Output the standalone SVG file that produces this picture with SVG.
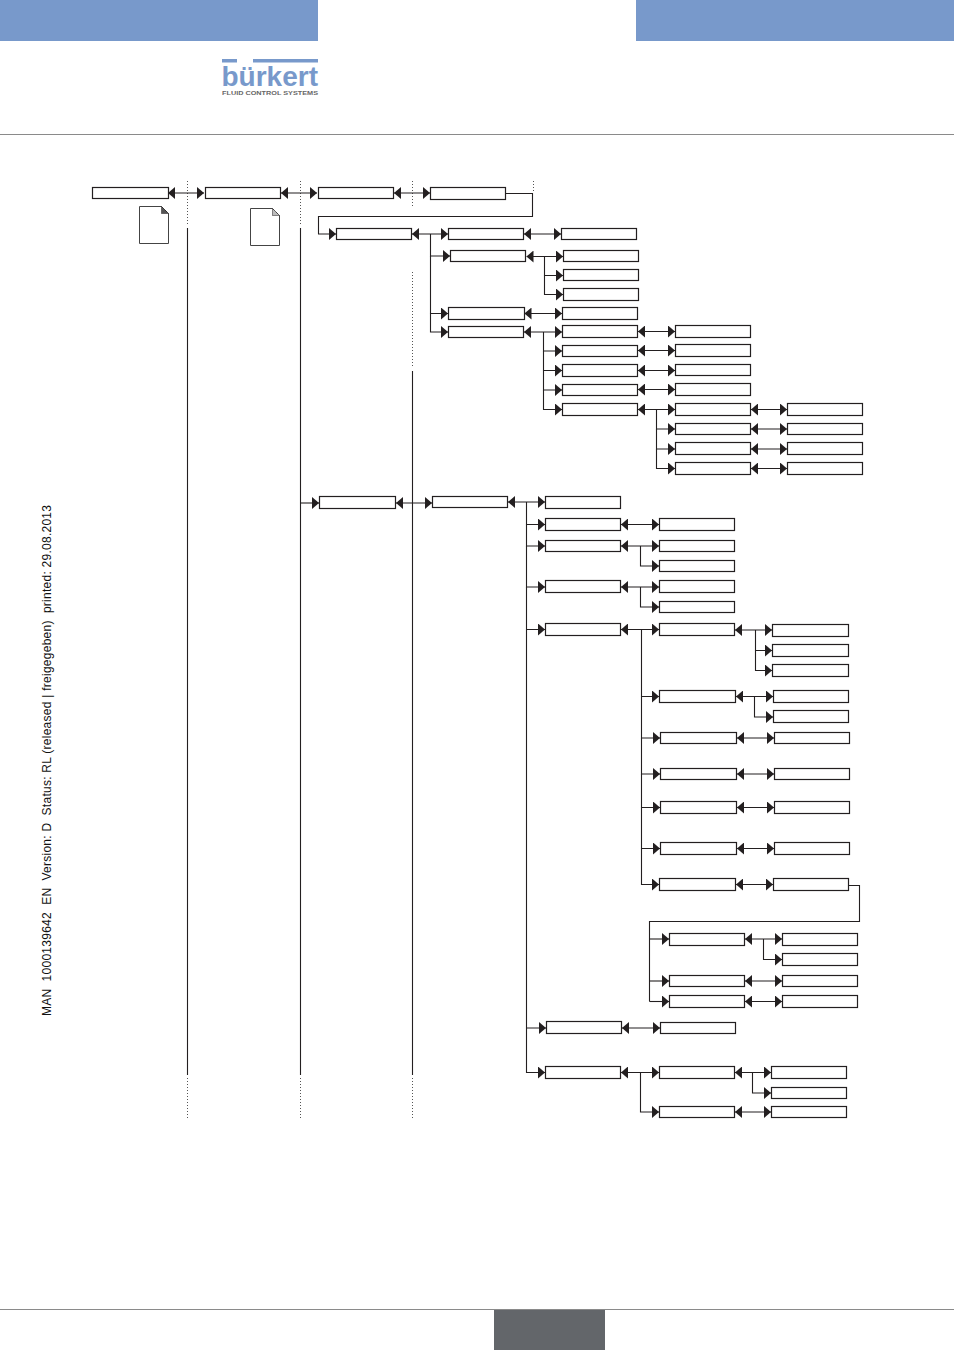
<svg xmlns="http://www.w3.org/2000/svg" width="954" height="1350" viewBox="0 0 954 1350">
<style>
.b{fill:#fff;stroke:#231f20;stroke-width:1.200}
.c{fill:none;stroke:#231f20;stroke-width:1.100}
.a{marker-start:url(#h);marker-end:url(#h)}
.e{marker-end:url(#h)}
.d{fill:none;stroke:#555;stroke-width:1;stroke-dasharray:1 2}
.doc{fill:#fff;stroke:#444;stroke-width:1}
</style>
<defs>
<marker id="h" markerUnits="userSpaceOnUse" viewBox="0 0 7 12" refX="7" refY="6" markerWidth="7" markerHeight="12" orient="auto-start-reverse"><path d="M0 0L7 6L0 12Z" fill="#231f20"/></marker>
</defs>
<g id="header">
<rect x="0" y="0" width="318" height="41" fill="#7899cb"/>
<rect x="636" y="0" width="318" height="41" fill="#7899cb"/>
<path d="M0 134.500H954M0 1309.500H954" stroke="#8a8a8a" fill="none"/>
<rect x="494" y="1310" width="111" height="40" fill="#63666a"/>
</g>
<g id="logo">
<path d="M222 59h15v3.500h-15zM253 59h65v3.500h-65z" fill="#7899cb"/>
<text x="221.500" y="85.500" font-family="Liberation Sans, Arial, sans-serif" font-weight="700" font-size="28" fill="#7899cb" textLength="96.500" lengthAdjust="spacingAndGlyphs">bürkert</text>
<text x="222" y="94.500" font-family="Liberation Sans, Arial, sans-serif" font-weight="700" font-size="5.500" fill="#666" textLength="96" lengthAdjust="spacingAndGlyphs">FLUID CONTROL SYSTEMS</text>
</g>
<text id="side" transform="translate(51,1016) rotate(-90)" font-family="Liberation Sans, Arial, sans-serif" font-size="12" fill="#111" xml:space="preserve" textLength="511">MAN  1000139642  EN  Version: D  Status: RL (released | freigegeben)  printed: 29.08.2013</text>
<g id="doc1"><path class="doc" d="M139.500 206.500H161.500L168.500 213.500V243.500H139.500Z"/><path d="M161.500 206.500V213.500H168.500Z" fill="#555" stroke="#231f20" stroke-dasharray="1 1"/></g>
<g id="doc2"><path class="doc" d="M250.500 208.500H272.500L279.500 215.500V245.500H250.500Z"/><path d="M272.500 208.500V215.500H279.500Z" fill="#bbb" stroke="#231f20" stroke-dasharray="1 1"/></g>
<g id="guides">
<path class="d" d="M187.500 181V225M187.500 1078V1119M300.500 181V225M300.500 1078V1119M412.500 181V208M412.500 272V366M412.500 1078V1119M533.500 181V191"/>
</g>
<g id="connectors">
<path class="c" d="M187.500 228V1075M300.500 228V1075M412.500 371V1075"/>
<path class="c a" d="M168 193H204"/>
<path class="c a" d="M281 193H317"/>
<path class="c a" d="M394 193H430"/>
<path class="c e" d="M506 193.500H532.500V216.500H318.500V234H336"/>
<path class="c a" d="M412 234H448"/>
<path class="c e" d="M430.500 234V256H450"/>
<path class="c e" d="M430.500 256V313.500H448"/>
<path class="c e" d="M430.500 313.500V332H448"/>
<path class="c a" d="M524 234H561"/>
<path class="c a" d="M526.500 256.500H563"/>
<path class="c e" d="M544.500 256.500V275.500H563"/>
<path class="c e" d="M544.500 275.500V294.500H563"/>
<path class="c a" d="M524.500 313.500H562"/>
<path class="c a" d="M524 332H562"/>
<path class="c e" d="M543.500 332V351H562"/>
<path class="c e" d="M543.500 351V370.500H562"/>
<path class="c e" d="M543.500 370.500V390H562"/>
<path class="c e" d="M543.500 390V409.500H562"/>
<path class="c a" d="M638 331.500H675"/>
<path class="c a" d="M638 350.500H675"/>
<path class="c a" d="M638 370.500H675"/>
<path class="c a" d="M638 389.500H675"/>
<path class="c a" d="M638 409.500H675"/>
<path class="c e" d="M656.500 409.500V429H675"/>
<path class="c e" d="M656.500 429V449H675"/>
<path class="c e" d="M656.500 449V468.500H675"/>
<path class="c a" d="M751 409.500H787"/>
<path class="c a" d="M751 429H787"/>
<path class="c a" d="M751 449H787"/>
<path class="c a" d="M751 468.500H787"/>
<path class="c e" d="M300.500 503H319"/>
<path class="c a" d="M396 503H432"/>
<path class="c a" d="M508 502H545"/>
<path class="c e" d="M526.500 502V524.500H545"/>
<path class="c e" d="M526.500 524.500V546H545"/>
<path class="c e" d="M526.500 546V587H545"/>
<path class="c e" d="M526.500 587V629.500H545"/>
<path class="c e" d="M526.500 629.500V1028H546"/>
<path class="c e" d="M526.500 1028V1072.500H545"/>
<path class="c a" d="M621 524.500H659"/>
<path class="c a" d="M621 546H659"/>
<path class="c e" d="M640.500 546V566H659"/>
<path class="c a" d="M621 587H659"/>
<path class="c e" d="M640.500 587V607H659"/>
<path class="c a" d="M621 629.500H659"/>
<path class="c e" d="M641.500 629.500V696.500H659"/>
<path class="c e" d="M641.500 696.500V738H660"/>
<path class="c e" d="M641.500 738V774H660"/>
<path class="c e" d="M641.500 774V807.500H660"/>
<path class="c e" d="M641.500 807.500V848.500H660"/>
<path class="c e" d="M641.500 848.500V884.500H659"/>
<path class="c a" d="M735 630H772"/>
<path class="c e" d="M755.500 630V650.500H772"/>
<path class="c e" d="M755.500 650.500V670.500H772"/>
<path class="c a" d="M736 696.500H773"/>
<path class="c e" d="M754.500 696.500V717H773"/>
<path class="c a" d="M737 738H774"/>
<path class="c a" d="M737 774H774"/>
<path class="c a" d="M737 807.500H774"/>
<path class="c a" d="M737 848.500H774"/>
<path class="c a" d="M736 884.500H773"/>
<path class="c" d="M849 885.500H859.500V921.500H649.500V1001.500"/>
<path class="c e" d="M649.500 939H669"/>
<path class="c e" d="M649.500 981H669"/>
<path class="c e" d="M649.500 1001.500H669"/>
<path class="c a" d="M745 939H782"/>
<path class="c e" d="M763.500 939V959.500H782"/>
<path class="c a" d="M745 981H782"/>
<path class="c a" d="M745 1001.500H782"/>
<path class="c a" d="M622 1028H660"/>
<path class="c a" d="M621 1072.500H659"/>
<path class="c e" d="M640.500 1072.500V1112H659"/>
<path class="c a" d="M735 1072.500H771"/>
<path class="c e" d="M752.500 1072.500V1093H771"/>
<path class="c a" d="M735 1112H771"/>
</g>
<g id="n1"><rect class="b" x="92.500" y="187.500" width="76" height="11"/></g>
<g id="n2"><rect class="b" x="205.500" y="187.500" width="75" height="11"/></g>
<g id="n3"><rect class="b" x="318.500" y="187.500" width="75" height="11"/></g>
<g id="n4"><rect class="b" x="430.500" y="187.500" width="75" height="12"/></g>
<g id="n5"><rect class="b" x="336.500" y="228.500" width="75" height="11"/></g>
<g id="n6"><rect class="b" x="448.500" y="228.500" width="75" height="11"/></g>
<g id="n7"><rect class="b" x="561.500" y="228.500" width="75" height="11"/></g>
<g id="n8"><rect class="b" x="450.500" y="250.500" width="75" height="11"/></g>
<g id="n9"><rect class="b" x="563.500" y="250.500" width="75" height="11"/></g>
<g id="n10"><rect class="b" x="563.500" y="269.500" width="75" height="11"/></g>
<g id="n11"><rect class="b" x="563.500" y="288.500" width="75" height="12"/></g>
<g id="n12"><rect class="b" x="448.500" y="307.500" width="76" height="12"/></g>
<g id="n13"><rect class="b" x="562.500" y="307.500" width="75" height="12"/></g>
<g id="n14"><rect class="b" x="448.500" y="326.500" width="75" height="11"/></g>
<g id="n15"><rect class="b" x="562.500" y="325.500" width="75" height="12"/></g>
<g id="n16"><rect class="b" x="675.500" y="325.500" width="75" height="12"/></g>
<g id="n17"><rect class="b" x="562.500" y="345.500" width="75" height="11"/></g>
<g id="n18"><rect class="b" x="675.500" y="344.500" width="75" height="12"/></g>
<g id="n19"><rect class="b" x="562.500" y="364.500" width="75" height="12"/></g>
<g id="n20"><rect class="b" x="675.500" y="364.500" width="75" height="11"/></g>
<g id="n21"><rect class="b" x="562.500" y="384.500" width="75" height="11"/></g>
<g id="n22"><rect class="b" x="675.500" y="383.500" width="75" height="12"/></g>
<g id="n23"><rect class="b" x="562.500" y="403.500" width="75" height="12"/></g>
<g id="n24"><rect class="b" x="675.500" y="403.500" width="75" height="12"/></g>
<g id="n25"><rect class="b" x="787.500" y="403.500" width="75" height="12"/></g>
<g id="n26"><rect class="b" x="675.500" y="423.500" width="75" height="11"/></g>
<g id="n27"><rect class="b" x="787.500" y="423.500" width="75" height="11"/></g>
<g id="n28"><rect class="b" x="675.500" y="442.500" width="75" height="12"/></g>
<g id="n29"><rect class="b" x="787.500" y="442.500" width="75" height="12"/></g>
<g id="n30"><rect class="b" x="675.500" y="462.500" width="75" height="12"/></g>
<g id="n31"><rect class="b" x="787.500" y="462.500" width="75" height="12"/></g>
<g id="n32"><rect class="b" x="319.500" y="496.500" width="76" height="12"/></g>
<g id="n33"><rect class="b" x="432.500" y="496.500" width="75" height="11"/></g>
<g id="n34"><rect class="b" x="545.500" y="496.500" width="75" height="12"/></g>
<g id="n35"><rect class="b" x="545.500" y="518.500" width="75" height="12"/></g>
<g id="n36"><rect class="b" x="659.500" y="518.500" width="75" height="12"/></g>
<g id="n37"><rect class="b" x="545.500" y="540.500" width="75" height="11"/></g>
<g id="n38"><rect class="b" x="659.500" y="540.500" width="75" height="11"/></g>
<g id="n39"><rect class="b" x="659.500" y="560.500" width="75" height="11"/></g>
<g id="n40"><rect class="b" x="545.500" y="580.500" width="75" height="12"/></g>
<g id="n41"><rect class="b" x="659.500" y="580.500" width="75" height="12"/></g>
<g id="n42"><rect class="b" x="659.500" y="601.500" width="75" height="11"/></g>
<g id="n43"><rect class="b" x="545.500" y="623.500" width="75" height="12"/></g>
<g id="n44"><rect class="b" x="659.500" y="623.500" width="75" height="12"/></g>
<g id="n45"><rect class="b" x="772.500" y="624.500" width="76" height="12"/></g>
<g id="n46"><rect class="b" x="772.500" y="644.500" width="76" height="12"/></g>
<g id="n47"><rect class="b" x="772.500" y="664.500" width="76" height="12"/></g>
<g id="n48"><rect class="b" x="659.500" y="690.500" width="76" height="12"/></g>
<g id="n49"><rect class="b" x="773.500" y="690.500" width="75" height="12"/></g>
<g id="n50"><rect class="b" x="773.500" y="710.500" width="75" height="12"/></g>
<g id="n51"><rect class="b" x="660.500" y="732.500" width="76" height="11"/></g>
<g id="n52"><rect class="b" x="774.500" y="732.500" width="75" height="11"/></g>
<g id="n53"><rect class="b" x="660.500" y="768.500" width="76" height="11"/></g>
<g id="n54"><rect class="b" x="774.500" y="768.500" width="75" height="11"/></g>
<g id="n55"><rect class="b" x="660.500" y="801.500" width="76" height="12"/></g>
<g id="n56"><rect class="b" x="774.500" y="801.500" width="75" height="12"/></g>
<g id="n57"><rect class="b" x="660.500" y="842.500" width="76" height="12"/></g>
<g id="n58"><rect class="b" x="774.500" y="842.500" width="75" height="12"/></g>
<g id="n59"><rect class="b" x="659.500" y="878.500" width="76" height="12"/></g>
<g id="n60"><rect class="b" x="773.500" y="878.500" width="75" height="12"/></g>
<g id="n61"><rect class="b" x="669.500" y="933.500" width="75" height="12"/></g>
<g id="n62"><rect class="b" x="782.500" y="933.500" width="75" height="12"/></g>
<g id="n63"><rect class="b" x="782.500" y="953.500" width="75" height="12"/></g>
<g id="n64"><rect class="b" x="669.500" y="975.500" width="75" height="11"/></g>
<g id="n65"><rect class="b" x="782.500" y="975.500" width="75" height="11"/></g>
<g id="n66"><rect class="b" x="669.500" y="995.500" width="75" height="12"/></g>
<g id="n67"><rect class="b" x="782.500" y="995.500" width="75" height="12"/></g>
<g id="n68"><rect class="b" x="546.500" y="1021.500" width="75" height="12"/></g>
<g id="n69"><rect class="b" x="660.500" y="1022.500" width="75" height="11"/></g>
<g id="n70"><rect class="b" x="545.500" y="1066.500" width="75" height="12"/></g>
<g id="n71"><rect class="b" x="659.500" y="1066.500" width="75" height="12"/></g>
<g id="n72"><rect class="b" x="771.500" y="1066.500" width="75" height="12"/></g>
<g id="n73"><rect class="b" x="771.500" y="1087.500" width="75" height="11"/></g>
<g id="n74"><rect class="b" x="659.500" y="1106.500" width="75" height="11"/></g>
<g id="n75"><rect class="b" x="771.500" y="1106.500" width="75" height="11"/></g>
</svg>
